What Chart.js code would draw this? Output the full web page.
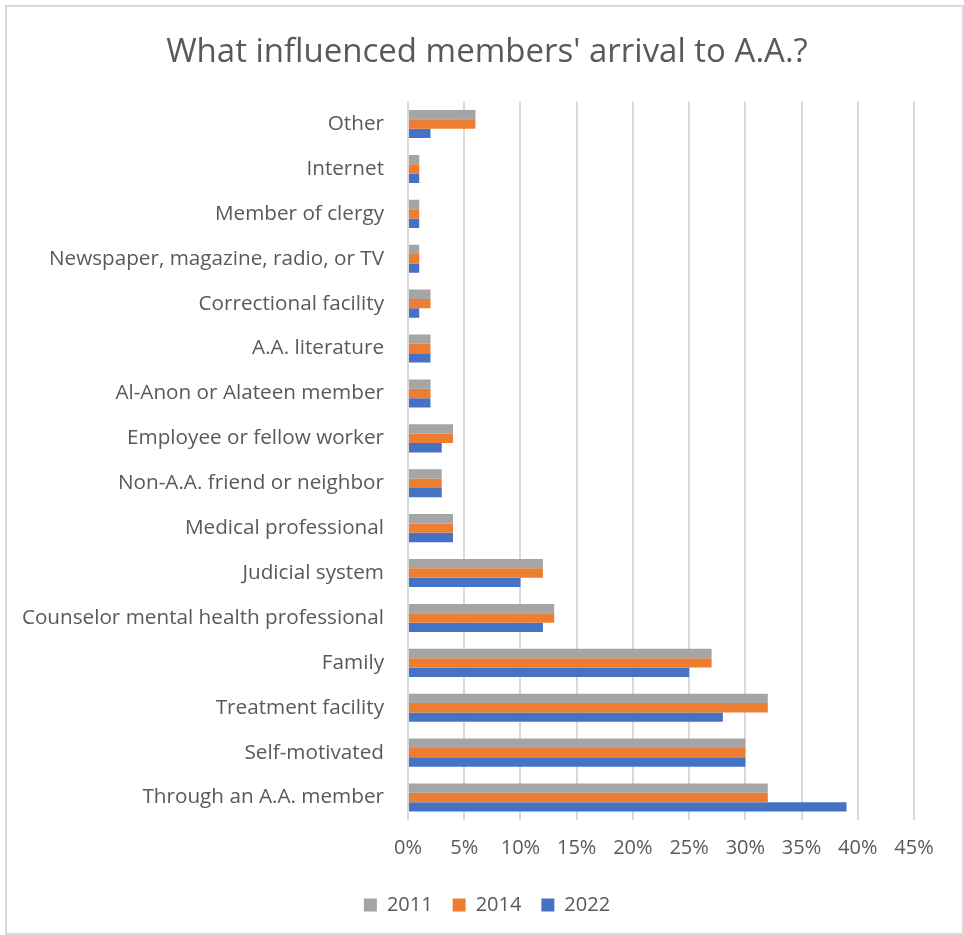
<!DOCTYPE html>
<html>
<head>
<meta charset="utf-8">
<script src="https://cdn.jsdelivr.net/npm/chart.js@4/dist/chart.umd.min.js"></script>
<style>
  body { margin: 0; background: #fff; }
  #box { position: absolute; left: 5px; top: 5px; width: 955px; height: 926px; border: 2px solid #d9d9d9; }
  #wrap { position: absolute; left: 0; top: 0; width: 964px; height: 935px; }
</style>
</head>
<body>
<div id="box"></div>
<div id="wrap"><canvas id="barChart"></canvas></div>
<script>
// categories top to bottom
var categories = ["Other", "Internet", "Member of clergy", "Newspaper, magazine, radio, or TV",
    "Correctional facility", "A.A. literature", "Al-Anon or Alateen member",
    "Employee or fellow worker", "Non-A.A. friend or neighbor", "Medical professional",
    "Judicial system", "Counselor mental health professional", "Family",
    "Treatment facility", "Self-motivated", "Through an A.A. member"];
var y2011 = [6, 1, 1, 1, 2, 2, 2, 4, 3, 4, 12, 13, 27, 32, 30, 32];
var y2014 = [6, 1, 1, 1, 2, 2, 2, 4, 3, 4, 12, 13, 27, 32, 30, 32];
var y2022 = [2, 1, 1, 1, 1, 2, 2, 3, 3, 4, 10, 12, 25, 28, 30, 39];

var grey = '#595959';
var fontFam = "'Open Sans', sans-serif";

var ctx = document.getElementById("barChart");
var myBarChart = new Chart(ctx, {
    type: 'bar',
    data: {
        labels: categories,
        datasets: [{
                label: "2011",
                data: y2011,
                backgroundColor: '#a5a5a5'
            },
            {
                label: "2014",
                data: y2014,
                backgroundColor: '#ed7d31'
            },
            {
                label: "2022",
                data: y2022,
                backgroundColor: '#4472c4'
            }
        ]
    },
    options: {
        indexAxis: 'y',
        responsive: true,
        maintainAspectRatio: false,
        animation: false,
        datasets: {
            bar: { categoryPercentage: 0.625, barPercentage: 1 }
        },
        layout: { padding: { left: 18, right: 8, top: 33, bottom: 10 } },
        plugins: {
            title: {
                display: true,
                text: "What influenced members' arrival to A.A.?",
                color: grey,
                font: { family: fontFam, size: 33, weight: 'normal' },
                padding: { top: 0, bottom: 29 }
            },
            legend: {
                position: 'bottom',
                labels: {
                    color: grey,
                    font: { family: fontFam, size: 20 },
                    boxWidth: 13,
                    boxHeight: 13,
                    padding: 20
                }
            },
            tooltip: { enabled: false }
        },
        scales: {
            x: {
                min: 0,
                max: 45,
                ticks: {
                    stepSize: 5,
                    color: grey,
                    font: { family: fontFam, size: 20 },
                    padding: 16,
                    callback: function (v) { return v + '%'; }
                },
                grid: { color: '#d9d9d9', lineWidth: 2, drawTicks: false },
                border: { display: false },
                afterFit: function (axis) { axis.height -= 1; }
            },
            y: {
                ticks: {
                    color: grey,
                    font: { family: fontFam, size: 20.7 },
                    padding: 24,
                    autoSkip: false
                },
                grid: { display: false, drawTicks: false },
                border: { display: false },
                afterFit: function (axis) { axis.width = 390; }
            },
            // empty right-hand space so the plot ends at 45%
            y2: {
                type: 'linear',
                position: 'right',
                ticks: { display: false },
                grid: { display: false },
                border: { display: false },
                afterFit: function (axis) { axis.width = 42; }
            }
        }
    }
});
</script>
</body>
</html>
